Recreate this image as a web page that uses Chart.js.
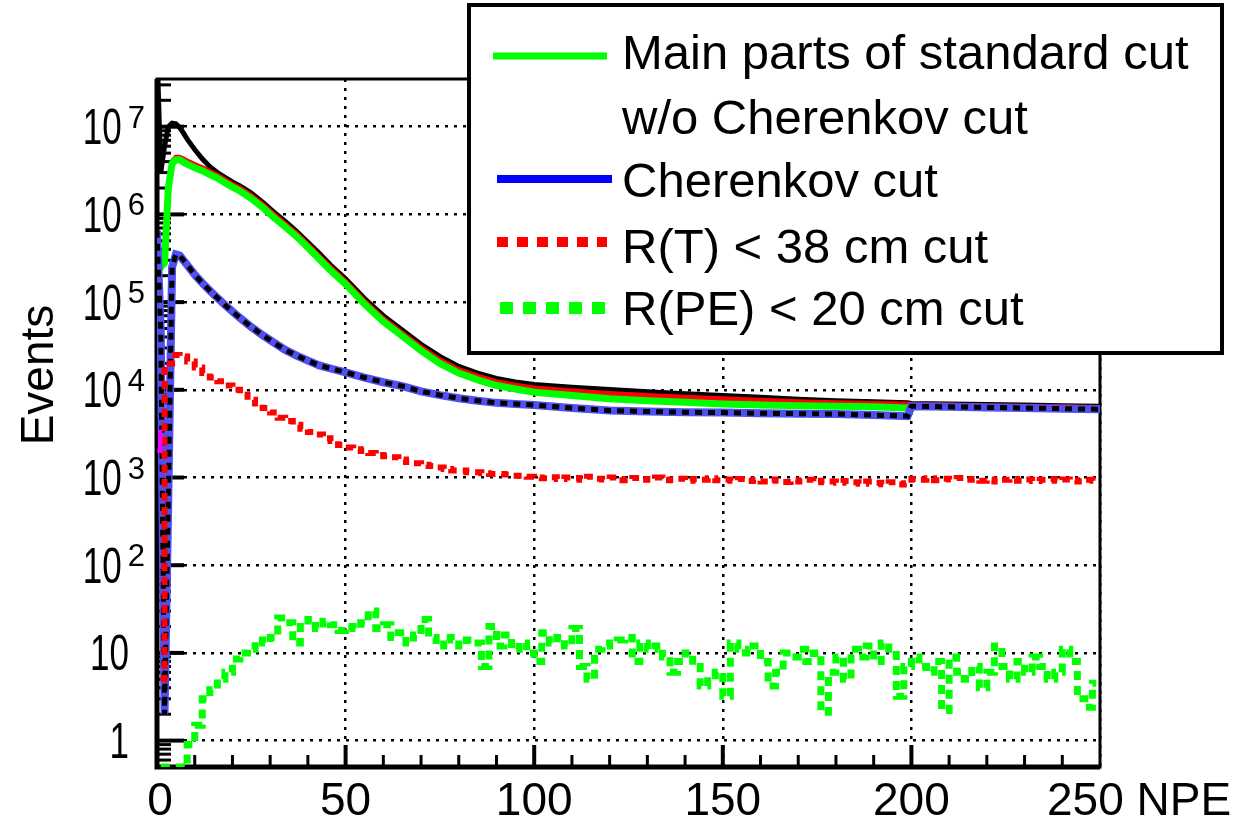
<!DOCTYPE html>
<html>
<head>
<meta charset="utf-8">
<title>NPE distribution</title>
<script src="https://cdn.jsdelivr.net/npm/chart.js@4.4.1/dist/chart.umd.min.js"></script>
<style>
  html, body { margin: 0; padding: 0; background: #fff; }
  #chart { display: block; }
</style>
</head>
<body>
<canvas id="chart" width="1234" height="822"></canvas>
<script>
// NPE positions of the smooth curves
const npeFine = [0, 1, 2, 3, 4, 5, 6, 7, 8, 10, 12, 14, 16, 18, 20, 22, 25, 28, 31, 34, 37, 40, 43, 46,
  50, 55, 60, 65, 70, 75, 80, 85, 90, 95, 100, 110, 120, 130, 140, 150, 160, 170, 180, 190, 199,
  200, 210, 220, 230, 240, 250];

// black solid (no legend entry)
const allEvents = [8e7, 3e6, 6e6, 1.0e7, 1.1e7, 1.08e7, 9.8e6, 8.5e6, 7.2e6, 5.5e6, 4.3e6, 3.5e6, 3.0e6,
  2.65e6, 2.35e6, 2.12e6, 1.75e6, 1.38e6, 1.06e6, 8.3e5, 6.4e5, 4.8e5, 3.6e5, 2.65e5,
  1.85e5, 1.1e5, 7.0e4, 4.8e4, 3.3e4, 2.4e4, 1.85e4, 1.55e4, 1.35e4, 1.23e4, 1.15e4,
  1.07e4, 1.01e4, 9.5e3, 9.0e3, 8.6e3, 8.2e3, 7.8e3, 7.5e3, 7.3e3, 7.1e3,
  7.0e3, 6.9e3, 6.8e3, 6.7e3, 6.6e3, 6.5e3];

// red solid (no legend entry)
const redSolid = [null, null, 3.0e5, 2.1e6, 4.0e6, 4.5e6, 4.5e6, 4.3e6, 4.05e6, 3.7e6, 3.4e6, 3.1e6, 2.8e6,
  2.5e6, 2.2e6, 2.0e6, 1.64e6, 1.3e6, 1.0e6, 7.8e5, 6.05e5, 4.55e5, 3.35e5, 2.5e5,
  1.73e5, 1.03e5, 6.5e4, 4.45e4, 3.05e4, 2.2e4, 1.7e4, 1.43e4, 1.24e4, 1.13e4, 1.05e4,
  9.7e3, 9.1e3, 8.6e3, 8.2e3, 7.9e3, 7.6e3, 7.3e3, 7.1e3, 7.0e3, 6.9e3,
  6.8e3, 6.7e3, 6.6e3, 6.5e3, 6.4e3, 6.3e3];

// green solid: main parts of standard cut w/o Cherenkov cut
const mainParts = [2.5e5, 2.5e5, 2.8e5, 2.0e6, 3.8e6, 4.2e6, 4.2e6, 3.95e6, 3.75e6, 3.4e6, 3.15e6, 2.85e6, 2.6e6,
  2.3e6, 2.05e6, 1.85e6, 1.52e6, 1.2e6, 9.2e5, 7.2e5, 5.6e5, 4.2e5, 3.1e5, 2.3e5,
  1.6e5, 9.5e4, 6.0e4, 4.1e4, 2.8e4, 2.0e4, 1.55e4, 1.3e4, 1.12e4, 1.02e4, 9.4e3,
  8.6e3, 7.9e3, 7.5e3, 7.2e3, 6.9e3, 6.7e3, 6.6e3, 6.5e3, 6.4e3, 6.2e3,
  null, null, null, null, null, null];

// blue solid / black dashed: Cherenkov cut
const cherenkovCut = [6.5e5, 4.5e4, 2, 600, 2.5e5, 3.5e5, 3.4e5, 3.0e5, 2.65e5, 2.05e5, 1.65e5, 1.35e5, 1.12e5,
  9.3e4, 7.8e4, 6.6e4, 5.2e4, 4.2e4, 3.45e4, 2.85e4, 2.45e4, 2.15e4, 1.9e4, 1.75e4,
  1.58e4, 1.38e4, 1.22e4, 1.1e4, 9.6e3, 8.7e3, 8.0e3, 7.5e3, 7.1e3, 6.9e3, 6.7e3,
  6.2e3, 5.8e3, 5.65e3, 5.55e3, 5.5e3, 5.4e3, 5.35e3, 5.3e3, 5.15e3, 5.0e3,
  6.5e3, 6.4e3, 6.3e3, 6.2e3, 6.1e3, 6.0e3];

// 2-NPE bins (centres 1, 3, ... 249) for the noisy histograms
const npeBins = Array.from({ length: 125 }, (_, i) => 1 + 2 * i);

const rT38 = [5, 2.0e4, 2.5e4, 2.4e4, 2.1e4, 1.8e4, 1.55e4, 1.38e4, 1.25e4, 1.12e4,
  1.0e4, 8.8e3, 7.7e3, 7.0e3, 6.2e3, 5.5e3, 4.8e3, 4.4e3, 4.0e3, 3.6e3,
  3.3e3, 3.1e3, 2.8e3, 2.6e3, 2.35e3, 2.2e3, 2.1e3, 2.0e3, 1.9e3, 1.8e3,
  1.75e3, 1.7e3, 1.6e3, 1.5e3, 1.45e3, 1.4e3, 1.35e3, 1.3e3, 1.25e3, 1.2e3,
  1.2e3, 1.15e3, 1.15e3, 1.12e3, 1.1e3, 1.1e3, 1.08e3, 1.05e3, 1.05e3, 1.02e3,
  1000, 980, 1010, 960, 1000, 990, 940, 1020, 970, 950,
  1000, 930, 960, 990, 940, 960, 1000, 930, 950, 970,
  920, 960, 940, 980, 930, 950, 920, 960, 910, 940,
  900, 950, 920, 890, 930, 900, 940, 880, 920, 900,
  870, 910, 880, 850, 900, 870, 840, 880, 830, 860,
  960, 940, 980, 930, 970, 950, 990, 940, 960, 920,
  950, 900, 940, 960, 920, 950, 910, 940, 960, 920,
  950, 930, 900, 940, 920];

const rPE20 = [0.5, 0.5, 0.5, 0.5, 0.9, 1.5, 3.0, 3.8, 5.0, 6.0,
  8.5, 10, 11, 14, 13, 15, 25, 22, 13, 20,
  24, 19, 23, 21, 18, 20, 19, 22, 30, 19,
  21, 15, 17, 13, 16, 24, 15, 12, 15, 14,
  12, 14, 13, 7, 20, 12, 16, 11, 13, 10,
  8, 17, 13, 15, 12, 19, 7, 5, 11, 12,
  13, 14, 15, 8, 13, 11, 12, 9, 6, 8,
  10, 7, 4.2, 5.5, 6, 3.2, 13, 11, 10, 12,
  8, 4.2, 6, 10, 9, 11, 8, 10, 2.1, 6,
  9, 5, 11, 9, 12, 8, 13, 11, 3.2, 7,
  9, 7, 6, 8, 2.2, 9, 6, 5, 7, 4,
  6, 12, 7, 5, 8, 6, 9, 7, 5, 6,
  11, 8, 3, 2.4, 4.5];

// short magenta piece near zero
const magentaNpe = [0.1, 0.9, 0.9];
const magentaVals = [2000, 2000, 3500];

// axis ticks and labels
const xMajor = [0, 50, 100, 150, 200, 250];
const xTickLabels = ['0', '50', '100', '150', '200', '250 NPE'];
const yDecades = [1, 10, 1e2, 1e3, 1e4, 1e5, 1e6, 1e7];
const yTickBase = ['1', '10', '10', '10', '10', '10', '10', '10'];
const yTickExp = ['', '', '2', '3', '4', '5', '6', '7'];

const FONT = '"Liberation Sans", Arial, sans-serif';

function pairs(xs, ys) {
  return xs.map((x, i) => ({ x: x, y: ys[i] }));
}

const framePlugin = {
  id: 'framePlugin',
  beforeDatasetsDraw(chart) {
    const { ctx, chartArea: a, scales: { x, y } } = chart;
    ctx.save();
    ctx.strokeStyle = '#000';
    ctx.setLineDash([]);
    // x ticks (inside)
    for (let v = 10; v < 250; v += 10) {
      const px = x.getPixelForValue(v);
      const major = v % 50 === 0;
      ctx.lineWidth = major ? 4 : 3;
      ctx.beginPath();
      ctx.moveTo(px, a.bottom);
      ctx.lineTo(px, a.bottom - (major ? 22 : 12));
      ctx.stroke();
    }
    // y ticks (inside)
    for (let e = -1; e <= 7; e++) {
      for (let k = 1; k <= 9; k++) {
        const v = k * Math.pow(10, e);
        if (v < y.min || v > y.max) continue;
        const py = y.getPixelForValue(v);
        ctx.lineWidth = k === 1 ? 4 : 3;
        ctx.beginPath();
        ctx.moveTo(a.left, py);
        ctx.lineTo(a.left + (k === 1 ? 27 : 14), py);
        ctx.stroke();
      }
    }
    // frame
    ctx.lineWidth = 3;
    ctx.strokeRect(a.left, a.top, a.right - a.left, a.bottom - a.top);
    ctx.lineWidth = 5;
    ctx.beginPath();
    ctx.moveTo(a.left, a.top);
    ctx.lineTo(a.left, a.bottom);
    ctx.lineTo(a.right, a.bottom);
    ctx.stroke();
    ctx.restore();
  },
  afterDraw(chart) {
    const { ctx, scales: { x, y } } = chart;
    ctx.save();
    ctx.fillStyle = '#000';
    ctx.textBaseline = 'alphabetic';

    // y tick labels, narrow digits with superscript exponents
    yDecades.forEach((v, i) => {
      const py = y.getPixelForValue(v);
      const exp = yTickExp[i];
      let right = 129;
      if (exp) {
        ctx.font = '31px ' + FONT;
        const sx = 145 - ctx.measureText(exp).width;
        ctx.textAlign = 'left';
        ctx.fillText(exp, sx, py + 1);
        right = sx - 6;
      }
      ctx.save();
      ctx.translate(right, py + 17.5);
      ctx.scale(0.7, 1);
      ctx.font = '50px ' + FONT;
      ctx.textAlign = 'right';
      ctx.fillText(yTickBase[i], 0, 0);
      ctx.restore();
    });

    // x tick labels
    ctx.font = '46px ' + FONT;
    xMajor.forEach((v, i) => {
      const px = x.getPixelForValue(v);
      if (i === xMajor.length - 1) {
        ctx.textAlign = 'left';
        ctx.fillText(xTickLabels[i], px - 53, 815);
      } else {
        ctx.textAlign = 'center';
        ctx.fillText(xTickLabels[i], px + (v === 0 ? 3 : 0), 815);
      }
    });

    // y title
    ctx.save();
    ctx.translate(53, 375);
    ctx.rotate(-Math.PI / 2);
    ctx.textAlign = 'center';
    ctx.font = '46px ' + FONT;
    ctx.fillText('Events', 0, 0);
    ctx.restore();

    // legend box
    ctx.fillStyle = '#fff';
    ctx.fillRect(469, 5, 753, 348);
    ctx.strokeStyle = '#000';
    ctx.lineWidth = 4;
    ctx.setLineDash([]);
    ctx.strokeRect(469, 5, 753, 348);

    const ds = chart.data.datasets;
    const rows = [
      { i: 5, color: '#00ff00', width: 7, dash: [], x0: 493, x1: 607, ly: 56, ty: [69, 134] },
      { i: 4, color: '#0000ff', width: 8, dash: [], x0: 497, x1: 612, ly: 179, ty: [197] },
      { i: 2, color: '#ff0000', width: 10, dash: [11, 9], x0: 497, x1: 607, ly: 242, ty: [263] },
      { i: 1, color: '#00ff00', width: 12, dash: [13, 10], x0: 500, x1: 614, ly: 308, ty: [325] }
    ];
    rows.forEach(r => {
      ctx.strokeStyle = r.color;
      ctx.lineWidth = r.width;
      ctx.setLineDash(r.dash);
      ctx.beginPath();
      ctx.moveTo(r.x0, r.ly);
      ctx.lineTo(r.x1, r.ly);
      ctx.stroke();
      ctx.setLineDash([]);
      ctx.fillStyle = '#000';
      ctx.font = '49px ' + FONT;
      ctx.textAlign = 'left';
      ds[r.i].label.split('\n').forEach((t, k) => ctx.fillText(t, 622, r.ty[k]));
    });
    ctx.restore();
  }
};

new Chart(document.getElementById('chart'), {
  type: 'line',
  data: {
    datasets: [
      { label: 'magenta', data: pairs(magentaNpe, magentaVals), borderColor: '#ff00ff', borderWidth: 4 },
      { label: 'R(PE) < 20 cm cut', data: pairs(npeBins, rPE20), borderColor: '#00ff00', borderWidth: 7,
        borderDash: [9, 6], stepped: 'middle' },
      { label: 'R(T) < 38 cm cut', data: pairs(npeBins, rT38), borderColor: '#ff0000', borderWidth: 6,
        borderDash: [8, 6], stepped: 'middle' },
      { label: 'Cherenkov cut (dashed)', data: pairs(npeFine, cherenkovCut), borderColor: '#000000',
        borderWidth: 5, borderDash: [7, 6] },
      { label: 'Cherenkov cut', data: pairs(npeFine, cherenkovCut), borderColor: '#5050f0', borderWidth: 8 },
      { label: 'Main parts of standard cut\nw/o Cherenkov cut', data: pairs(npeFine, mainParts),
        borderColor: '#00ff00', borderWidth: 7 },
      { label: 'red', data: pairs(npeFine, redSolid), borderColor: '#ff0000', borderWidth: 5 },
      { label: 'all', data: pairs(npeFine, allEvents), borderColor: '#000000', borderWidth: 5 }
    ]
  },
  options: {
    responsive: false,
    animation: false,
    layout: { padding: { left: 157, top: 79, right: 134, bottom: 55 } },
    elements: { point: { radius: 0 }, line: { tension: 0, borderCapStyle: 'butt' } },
    plugins: { legend: { display: false }, tooltip: { enabled: false } },
    scales: {
      x: {
        type: 'linear', min: 0, max: 250,
        ticks: { display: false, stepSize: 50 },
        grid: { color: '#000', lineWidth: 2.5, drawTicks: false },
        border: { display: false, dash: [3, 6] }
      },
      y: {
        type: 'logarithmic', min: 0.5, max: 3.5e7,
        afterBuildTicks: s => { s.ticks = yDecades.map(v => ({ value: v })); },
        ticks: { display: false },
        grid: { color: '#000', lineWidth: 2.5, drawTicks: false },
        border: { display: false, dash: [3, 6] }
      }
    }
  },
  plugins: [framePlugin]
});
</script>
</body>
</html>
